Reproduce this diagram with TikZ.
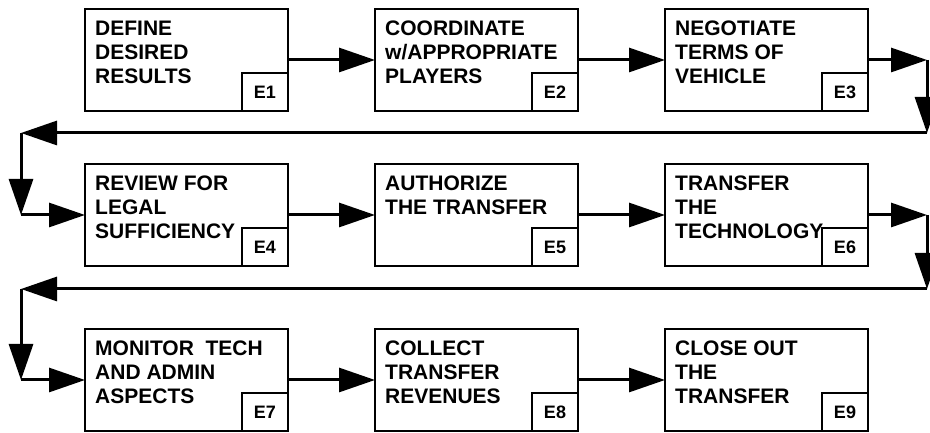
\documentclass[tikz,border=0pt]{standalone}
\usepackage{fontspec}
\setmainfont{Liberation Sans}
\usetikzlibrary{arrows.meta}

\begin{document}
\begin{tikzpicture}[x=1pt, y=1pt,
    stepbox/.style={draw, line width=2pt, minimum width=203pt, minimum height=102pt, inner sep=0pt, outer sep=0pt},
    tagbox/.style={draw, fill=white, line width=1.8pt, minimum width=46pt, minimum height=38pt, inner sep=0pt, outer sep=0pt, font=\fontsize{18}{20}\selectfont\bfseries},
    steptext/.style={anchor=north west, align=left, inner sep=0pt, font=\fontsize{21}{24}\selectfont\bfseries},
    flow/.style={line width=3pt, -{Triangle[length=36pt, width=24pt]}}]
  \useasboundingbox (0,0) rectangle (930,433);
  % the nine steps, three per row
  \foreach \n/\x/\y/\txt in {1/186.5/373/{DEFINE\\DESIRED\\RESULTS},
      2/476.5/373/{COORDINATE\\w/APPROPRIATE\\PLAYERS},
      3/766.5/373/{NEGOTIATE\\TERMS OF\\VEHICLE},
      4/186.5/218/{REVIEW FOR\\LEGAL\\SUFFICIENCY},
      5/476.5/218/{AUTHORIZE\\THE TRANSFER},
      6/766.5/218/{TRANSFER\\THE\\TECHNOLOGY},
      7/186.5/53/{MONITOR~ TECH\\AND ADMIN\\ASPECTS},
      8/476.5/53/{COLLECT\\TRANSFER\\REVENUES},
      9/766.5/53/{CLOSE OUT\\THE\\TRANSFER}} {
    \node[stepbox] (e\n) at (\x,\y) {};
    \node[steptext] (t\n) at ([shift={(10,-12)}]e\n.north west) {\txt};
    \node[tagbox, anchor=south east] (tag\n) at (e\n.south east) {E\n};
  }
  % turning points of the return lines
  \coordinate (r1a) at (927,373);
  \coordinate (r1b) at (927,300);
  \coordinate (l1a) at (21,300);
  \coordinate (l1b) at (21,218);
  \coordinate (r2a) at (927,218);
  \coordinate (r2b) at (927,144);
  \coordinate (l2a) at (21,144);
  \coordinate (l2b) at (21,53);
  \draw[flow] (e1) -- (e2);
  \draw[flow] (e2) -- (e3);
  \draw[flow] (e3.east) -- (r1a);
  \draw[flow] (r1a) -- (r1b);
  \draw[flow] (r1b) -- (l1a);
  \draw[flow] (l1a) -- (l1b);
  \draw[flow] (l1b) -- (e4.west);
  \draw[flow] (e4) -- (e5);
  \draw[flow] (e5) -- (e6);
  \draw[flow] (e6.east) -- (r2a);
  \draw[flow] (r2a) -- (r2b);
  \draw[flow] (r2b) -- (l2a);
  \draw[flow] (l2a) -- (l2b);
  \draw[flow] (l2b) -- (e7.west);
  \draw[flow] (e7) -- (e8);
  \draw[flow] (e8) -- (e9);
\end{tikzpicture}
\end{document}
